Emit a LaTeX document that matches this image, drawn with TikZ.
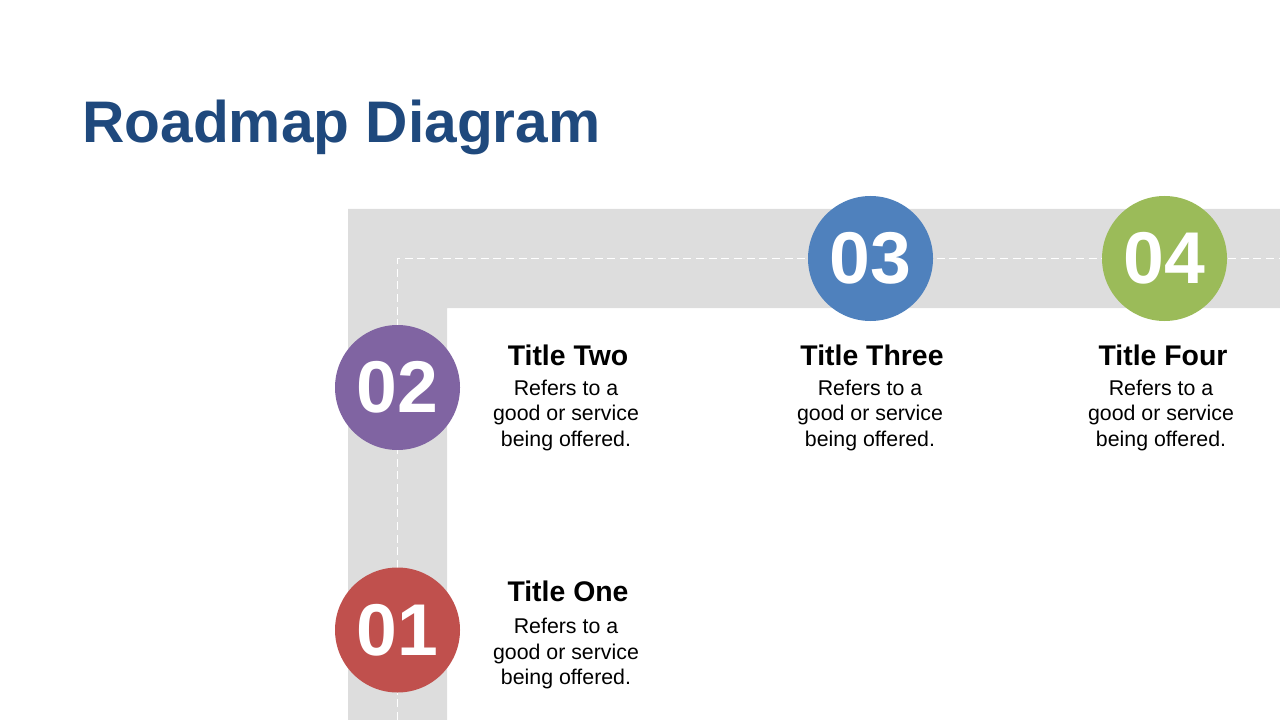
\documentclass[tikz,border=0pt]{standalone}
\usepackage{fontspec}
\setmainfont{Liberation Sans}
\definecolor{roadgray}{HTML}{DDDDDD}
\definecolor{headblue}{HTML}{1F497D}
\definecolor{cred}{HTML}{C0504D}
\definecolor{cpurple}{HTML}{8064A2}
\definecolor{cblue}{HTML}{4F81BD}
\definecolor{cgreen}{HTML}{9BBB59}
\begin{document}
\begin{tikzpicture}[x=0.75pt,y=-0.75pt,
  numcircle/.style={circle,minimum size=93.75pt,inner sep=0pt,text=white,
    font=\fontsize{55}{60}\selectfont\bfseries},
  itemtitle/.style={anchor=base,inner sep=0pt,font=\fontsize{21.3}{24}\selectfont\bfseries},
  itembody/.style={anchor=base,inner sep=0pt,align=center,font=\fontsize{16}{19.1}\selectfont},
  centerline/.style={white,line width=0.75pt,dash pattern=on 6pt off 3.5pt}]
\useasboundingbox (0,0) rectangle (1280,720);
% road
\fill[roadgray] (348,720) -- (348,209) -- (1280,209) -- (1280,308) -- (447,308) -- (447,720) -- cycle;
\coordinate (rs) at (397.5,720);
\coordinate (rc) at (397.5,258.5);
\coordinate (re) at (1280,258.5);
\draw[centerline] (rs) -- (rc) -- (re);
% heading
\node[anchor=base west,inner sep=0pt,text=headblue,font=\fontsize{44}{50}\selectfont\bfseries] (head) at (82,143) {Roadmap Diagram};
% circles
\node[numcircle,fill=cred] (c1) at (397.5,630) {01};
\node[numcircle,fill=cpurple] (c2) at (397.5,387.5) {02};
\node[numcircle,fill=cblue] (c3) at (870.5,258.5) {03};
\node[numcircle,fill=cgreen] (c4) at (1164.5,258.5) {04};
% texts
\node[itemtitle] (t1) at (568,601.7) {Title One};
\node[itembody] (b1) at (566,684.5) {Refers to a\\good or service\\being offered.};
\node[itemtitle] (t2) at (568,365) {Title Two};
\node[itembody] (b2) at (566,446) {Refers to a\\good or service\\being offered.};
\node[itemtitle] (t3) at (872,365) {Title Three};
\node[itembody] (b3) at (870,446) {Refers to a\\good or service\\being offered.};
\node[itemtitle] (t4) at (1163,365) {Title Four};
\node[itembody] (b4) at (1161,446) {Refers to a\\good or service\\being offered.};
\end{tikzpicture}
\end{document}
